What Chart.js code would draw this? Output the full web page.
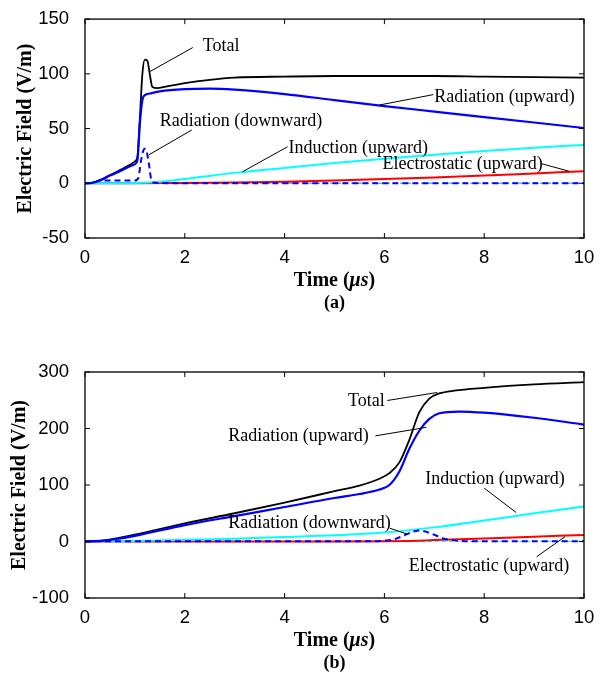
<!DOCTYPE html>
<html>
<head>
<meta charset="utf-8">
<script src="https://cdn.jsdelivr.net/npm/chart.js@4.4.1/dist/chart.umd.min.js"></script>
<style>
  html, body { margin: 0; padding: 0; background: #fff; }
  #wrapA { position: absolute; left: 0; top: 0; width: 613px; height: 320px; }
  #wrapB { position: absolute; left: 0; top: 340px; width: 613px; height: 339px; }
</style>
</head>
<body>
<div id="wrapA"><canvas id="chartA"></canvas></div>
<div id="wrapB"><canvas id="chartB"></canvas></div>
<script>
// ---------- panel (a) data, time in microseconds, field in V/m ----------
const aTotalT = [0, 0.15, 0.3, 0.5, 0.7, 0.9, 1.0, 1.05, 1.1, 1.15, 1.2, 1.25, 1.3, 1.35, 1.45, 1.7, 2, 2.5, 3, 4, 5, 6, 7, 8, 9, 10];
const aTotalV = [0, 0.5, 3, 7.5, 12, 17, 20, 24, 60, 100, 113, 112, 99, 88, 87, 89, 91.5, 94.5, 96.5, 97.5, 98, 98, 98, 97.5, 97, 96.5];
const aRadUpT = [0, 0.15, 0.3, 0.5, 0.7, 0.9, 1.0, 1.05, 1.1, 1.15, 1.2, 1.3, 1.5, 2, 2.5, 3, 4, 5, 6, 7, 8, 9, 10];
const aRadUpV = [0, 0.5, 2.5, 7, 11, 15.5, 17.5, 21, 55, 76, 80.5, 82, 84, 86, 86.5, 85.5, 81.5, 76, 70.5, 65.5, 60.5, 55.5, 50.5];
const aRadDownT = [0, 0.15, 0.3, 1.0, 1.07, 1.12, 1.17, 1.2, 1.23, 1.28, 1.33, 1.4, 2, 10];
const aRadDownV = [0, 0, 2.5, 2.5, 5, 20, 30, 31.5, 30, 18, 3, 0.5, 0, 0];
const aIndUpT = [0, 0.5, 1, 1.5, 2, 3, 4, 5, 6, 7, 8, 9, 10];
const aIndUpV = [0, 0, 0.3, 1.5, 4, 9.5, 14, 18.5, 22.5, 26, 29.5, 32.5, 35];
const aElecUpT = [0, 1, 2, 3, 4, 5, 6, 7, 8, 9, 10];
const aElecUpV = [0, 0, 0.3, 0.8, 1.5, 2.6, 3.8, 5.3, 7, 9, 11];
const aDownT = [0, 10];
const aIndDownV = [0, 0];
const aElecDownV = [0, 0];

// ---------- panel (b) data ----------
const bTotalT = [0, 0.3, 0.6, 1, 2, 3, 4, 5, 5.5, 5.9, 6.1, 6.3, 6.5, 6.7, 6.9, 7.1, 7.4, 8, 9, 10];
const bTotalV = [0, 1, 5, 12, 32, 50, 69, 89, 99, 111, 121, 140, 180, 229, 253, 262, 267, 272, 278, 282];
const bRadUpT = [0, 0.3, 0.6, 1, 2, 3, 4, 5, 5.5, 5.9, 6.1, 6.3, 6.5, 6.7, 6.9, 7.1, 7.5, 8, 9, 10];
const bRadUpV = [0, 1, 4, 10, 29, 45, 61, 77, 84, 92, 100, 124, 164, 196, 217, 227, 230, 228, 219, 207];
const bRadDownT = [0, 5.8, 6.0, 6.2, 6.4, 6.6, 6.7, 6.8, 7.0, 7.2, 7.4, 7.7, 10];
const bRadDownV = [0.5, 0.5, 1.5, 4, 11, 18, 19.5, 18, 12, 5, 2, 0.5, 0.5];
const bIndUpT = [0, 1, 2, 3, 4, 5, 6, 7, 8, 9, 10];
const bIndUpV = [0, 1, 3, 5, 8, 11, 16, 25, 37, 50, 62];
const bElecUpT = [0, 5, 6, 6.5, 7, 8, 9, 10];
const bElecUpV = [0, 0, 0.3, 1, 2.5, 5.5, 8.5, 11.5];
const bDownT = [0, 10];
const bIndDownV = [0, 0];
const bElecDownV = [0, 0];

// ---------- annotation texts and where they sit (data units) ----------
const noteText = ['Total', 'Radiation (upward)', 'Radiation (downward)', 'Induction (upward)', 'Electrostatic (upward)'];
const aNoteAt = [[2.36, 125], [7.0, 78.6], [1.5, 57], [4.08, 32], [5.96, 17]];
const aLeader = [[2.16, 124, 1.30, 102], [6.98, 81, 5.9, 71.5], [2.14, 48.7, 1.28, 26], [4.06, 33.4, 3.16, 10.6], [9.15, 17.9, 9.7, 11]];
const bNoteAt = [[5.27, 248], [2.87, 186], [2.87, 32.4], [6.82, 110], [6.49, -43]];
const bLeader = [[6.06, 249.6, 7.06, 263.7], [5.82, 187, 6.84, 202], [6.11, 23.4, 6.45, 13.3], [8.0, 94.4, 8.64, 51.3], [9.05, -27, 9.62, 8.5]];

// builds one line dataset out of a time array and a value array
function series(label, t, v, color, width, dash) {
  return {
    label: label,
    data: t.map((x, i) => ({ x: x, y: v[i] })),
    borderColor: color,
    borderWidth: width,
    borderDash: dash || [],
    pointRadius: 0,
    fill: false,
    cubicInterpolationMode: 'monotone'
  };
}

// draws the MATLAB style box, inner ticks, axis titles and the labelled leaders
function framePlugin(tag, noteAt, leaders, titleX) {
  return {
    id: 'frame' + tag,
    afterDatasetsDraw(chart) {
      const { ctx, chartArea: a, scales } = chart;
      const x = scales.x, y = scales.y;
      const seg = (x1, y1, x2, y2) => { ctx.beginPath(); ctx.moveTo(x1, y1); ctx.lineTo(x2, y2); ctx.stroke(); };
      ctx.save();
      ctx.strokeStyle = '#000';
      ctx.lineWidth = 1.3;
      ctx.strokeRect(a.left, a.top, a.right - a.left, a.bottom - a.top);
      ctx.lineWidth = 1;
      x.ticks.forEach(t => {
        const px = x.getPixelForValue(t.value);
        seg(px, a.bottom, px, a.bottom - 5);
        seg(px, a.top, px, a.top + 5);
      });
      y.ticks.forEach(t => {
        const py = y.getPixelForValue(t.value);
        seg(a.left, py, a.left + 5, py);
        seg(a.right, py, a.right - 5, py);
      });

      // labels with leader lines
      ctx.fillStyle = '#000';
      ctx.font = '18px "Liberation Serif"';
      ctx.textAlign = 'left';
      ctx.textBaseline = 'middle';
      noteText.forEach((txt, i) => {
        ctx.fillText(txt, x.getPixelForValue(noteAt[i][0]), y.getPixelForValue(noteAt[i][1]));
        const l = leaders[i];
        seg(x.getPixelForValue(l[0]), y.getPixelForValue(l[1]), x.getPixelForValue(l[2]), y.getPixelForValue(l[3]));
      });

      // y title
      ctx.save();
      ctx.translate(titleX, (a.top + a.bottom) / 2);
      ctx.rotate(-Math.PI / 2);
      ctx.textAlign = 'center';
      ctx.font = 'bold 20px "Liberation Serif"';
      ctx.fillText('Electric Field (V/m)', 0, 0);
      ctx.restore();

      // x title: "Time (" + italic "μs" + ")"
      const cx = (a.left + a.right) / 2;
      const ty = a.bottom + 43;
      const parts = [['Time (', 'bold 20px "Liberation Serif"'], ['\u03bcs', 'italic bold 20px "Liberation Serif"'], [')', 'bold 20px "Liberation Serif"']];
      let total = 0;
      parts.forEach(p => { ctx.font = p[1]; total += ctx.measureText(p[0]).width; });
      let px = cx - total / 2;
      ctx.textAlign = 'left';
      parts.forEach(p => { ctx.font = p[1]; ctx.fillText(p[0], px, ty); px += ctx.measureText(p[0]).width; });

      ctx.font = 'bold 18px "Liberation Serif"';
      ctx.textAlign = 'center';
      ctx.fillText('(' + tag + ')', cx, a.bottom + 65);
      ctx.restore();
    }
  };
}

function options(padTop, xHeight, yMin, yMax, yStep) {
  const tickFont = { family: 'Liberation Sans', size: 18.5 };
  return {
    responsive: true,
    maintainAspectRatio: false,
    animation: false,
    layout: { padding: { left: 0, right: 29, top: padTop, bottom: 0 } },
    plugins: { legend: { display: false }, tooltip: { enabled: false } },
    scales: {
      x: {
        type: 'linear', min: 0, max: 10,
        ticks: { stepSize: 2, padding: 1, color: '#000', font: tickFont, maxRotation: 0 },
        grid: { display: false }, border: { display: false },
        afterFit: s => { s.height = xHeight; }
      },
      y: {
        type: 'linear', min: yMin, max: yMax,
        ticks: { stepSize: yStep, padding: 8, color: '#000', font: tickFont },
        grid: { display: false }, border: { display: false },
        afterFit: s => { s.width = 85; }
      }
    }
  };
}

new Chart(document.getElementById('chartA').getContext('2d'), {
  type: 'line',
  data: {
    datasets: [
      series('Radiation (downward)', aRadDownT, aRadDownV, '#0000ff', 2, [6, 4]),
      series('Radiation (upward)', aRadUpT, aRadUpV, '#0000ff', 2.2),
      series('Total', aTotalT, aTotalV, '#000000', 1.8),
      series('Induction (upward)', aIndUpT, aIndUpV, '#00ffff', 2),
      series('Electrostatic (upward)', aElecUpT, aElecUpV, '#ff0000', 2),
      series('Induction (downward)', aDownT, aIndDownV, '#00ffff', 1, [4, 3]),
      series('Electrostatic (downward)', aDownT, aElecDownV, '#ff0000', 1, [4, 3])
    ]
  },
  options: options(12, 82, -50, 150, 50),
  plugins: [framePlugin('a', aNoteAt, aLeader, 26)]
});

new Chart(document.getElementById('chartB').getContext('2d'), {
  type: 'line',
  data: {
    datasets: [
      series('Radiation (downward)', bRadDownT, bRadDownV, '#0000ff', 2, [6, 4]),
      series('Radiation (upward)', bRadUpT, bRadUpV, '#0000ff', 2.2),
      series('Total', bTotalT, bTotalV, '#000000', 1.8),
      series('Induction (upward)', bIndUpT, bIndUpV, '#00ffff', 2),
      series('Electrostatic (upward)', bElecUpT, bElecUpV, '#ff0000', 2),
      series('Induction (downward)', bDownT, bIndDownV, '#00ffff', 1, [4, 3]),
      series('Electrostatic (downward)', bDownT, bElecDownV, '#ff0000', 1, [4, 3])
    ]
  },
  options: options(32, 81, -100, 300, 100),
  plugins: [framePlugin('b', bNoteAt, bLeader, 20)]
});
</script>
</body>
</html>
